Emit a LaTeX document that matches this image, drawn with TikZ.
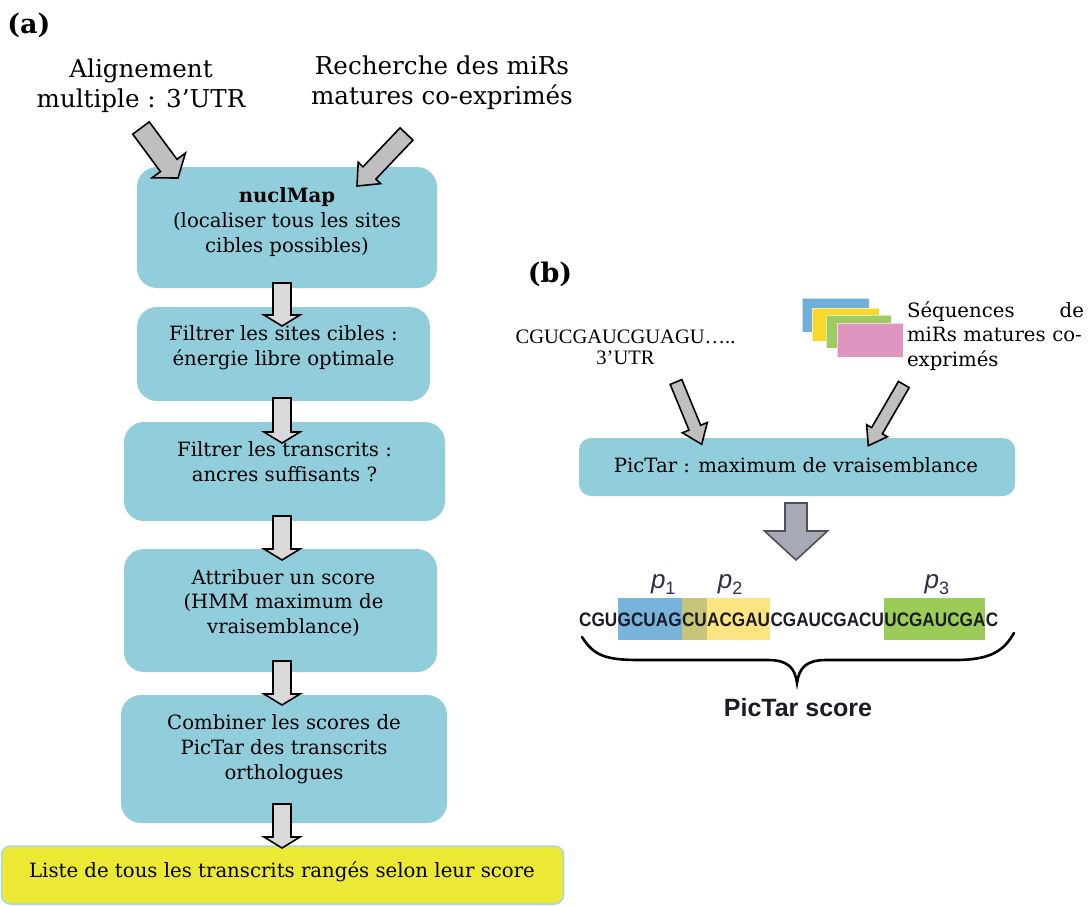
\documentclass[tikz,border=0pt]{standalone}
\usepackage{fontspec}
\usepackage{graphicx}
\setmainfont{DejaVu Serif}
\newfontfamily\utrfont{Liberation Serif}
\newfontfamily\sansf{Liberation Sans}
\usetikzlibrary{calc}

\definecolor{boxblue}{HTML}{92CDDC}
\definecolor{listyellow}{HTML}{EBE934}
\definecolor{listedge}{HTML}{A6D5E4}
\definecolor{arrowlight}{HTML}{D9D9D9}
\definecolor{arrowgray}{HTML}{BFBFBF}
\definecolor{bigfill}{HTML}{A7AAB6}
\definecolor{bigedge}{HTML}{505058}
\definecolor{noteblue}{HTML}{70B0D8}
\definecolor{noteyellow}{HTML}{F8D82B}
\definecolor{notegreen}{HTML}{9FCC62}
\definecolor{notepink}{HTML}{E095C0}
\definecolor{hlblue}{HTML}{78B3DA}
\definecolor{hlolive}{HTML}{C8C47A}
\definecolor{hlyellow}{HTML}{FCE482}
\definecolor{hlgreen}{HTML}{9BCC5A}
\definecolor{seqink}{HTML}{1C1C28}
\definecolor{pink}{HTML}{2E2E48}

% block arrow: [style]{tail}{tip}{shaft half width}{head half width}{head length}
\newcommand\blockarrow[6]{%
  \coordinate (ba-base) at ($(#3)!#6!(#2)$);
  \draw[#1] ($(#2)!#4!90:(#3)$) -- ($(ba-base)!#4!90:(#3)$)
    -- ($(ba-base)!#5!90:(#3)$) -- (#3)
    -- ($(ba-base)!#5!-90:(#3)$) -- ($(ba-base)!#4!-90:(#3)$)
    -- ($(#2)!#4!-90:(#3)$) -- cycle;
}
\newcommand\sq[1]{\scalebox{0.88}[1]{#1}}
\newcommand\pidx[1]{p\raisebox{-0.22em}{\upshape\fontsize{18}{18}\selectfont #1}}

\tikzset{
  panel/.style={font=\fontsize{27}{27}\selectfont\bfseries, inner sep=0pt},
  toptext/.style={font=\fontsize{24.6}{30}\selectfont, align=center, inner sep=0pt},
  flowbox/.style={fill=boxblue, rounded corners=20pt, inner sep=0pt},
  boxtext/.style={font=\fontsize{19.7}{24.8}\selectfont, align=center, inner sep=0pt},
  downarrow/.style={fill=arrowlight, draw=black, line width=1.6pt, line join=miter},
  diagarrow/.style={fill=arrowgray, draw=black, line width=1.6pt, line join=miter},
  bigarrow/.style={fill=bigfill, draw=bigedge, line width=1.6pt, line join=miter},
  note/.style={inner sep=0pt, draw=white, line width=0.8pt, draw opacity=0.6},
  seg/.style={inner sep=0pt, text height=28pt, text depth=14pt, anchor=base west,
    text=seqink, font=\sansf\bfseries\fontsize{19.5}{20}\selectfont},
  plab/.style={inner sep=0pt, text=pink, font=\sansf\itshape\fontsize{26}{26}\selectfont},
  bracestroke/.style={draw=black, line width=2.6pt, line cap=round},
}

\begin{document}
\begin{tikzpicture}[x=1pt,y=-1pt]
\useasboundingbox (0,0) rectangle (1091,905);
\fill[white] (0,0) rectangle (1091,905);

% ---------- panel (a) ----------
\node[panel] (lblA) at (29,25) {(a)};
\node[toptext] (inAlign) at (141,86) {Alignement\\multiple : 3’UTR};
\node[toptext] (inMir) at (442,83) {Recherche des miRs\\matures co-exprimés};

\node[flowbox, minimum width=300pt, minimum height=121pt] (b1) at (287,227.5) {};
\node[flowbox, minimum width=293pt, minimum height=94pt] (b2) at (283.5,354) {};
\node[flowbox, minimum width=321pt, minimum height=99pt] (b3) at (284.5,471.5) {};
\node[flowbox, minimum width=313pt, minimum height=123pt] (b4) at (280.5,610.5) {};
\node[flowbox, minimum width=326pt, minimum height=128pt] (b5) at (284,759) {};
\node[fill=listyellow, draw=listedge, line width=1.5pt, rounded corners=9pt,
      minimum width=562pt, minimum height=58pt, inner sep=0pt] (b6) at (282.5,875) {};

% inputs of nuclMap
\coordinate (a1s) at (141,128);
\coordinate (a1e) at (178,178);
\coordinate (a2s) at (406.5,134);
\coordinate (a2e) at (357,186);
\blockarrow{diagarrow}{a1s}{a1e}{10.3pt}{20.8pt}{15.6pt}
\blockarrow{diagarrow}{a2s}{a2e}{8.9pt}{15.5pt}{18pt}

% steps of the pipeline
\coordinate (v1s) at (282,283);  \coordinate (v1e) at (282,326);
\coordinate (v2s) at (282,398);  \coordinate (v2e) at (282,443);
\coordinate (v3s) at (282,516);  \coordinate (v3e) at (282,560);
\coordinate (v4s) at (282,661);  \coordinate (v4e) at (282,705);
\coordinate (v5s) at (282,804);  \coordinate (v5e) at (282,848);
\blockarrow{downarrow}{v1s}{v1e}{9pt}{18pt}{11pt}
\blockarrow{downarrow}{v2s}{v2e}{9pt}{18pt}{11pt}
\blockarrow{downarrow}{v3s}{v3e}{9pt}{18pt}{11pt}
\blockarrow{downarrow}{v4s}{v4e}{9pt}{18pt}{11pt}
\blockarrow{downarrow}{v5s}{v5e}{9pt}{18pt}{11pt}

\node[boxtext] (t1) at (287,222) {\textbf{nuclMap}\\(localiser tous les sites\\cibles possibles)};
\node[boxtext] (t2) at (283.5,347.5) {Filtrer les sites cibles :\\énergie libre optimale};
\node[boxtext] (t3) at (284.5,461.5) {Filtrer les transcrits :\\ancres suffisants ?};
\node[boxtext] (t4) at (283.5,603) {Attribuer un score\\(HMM maximum de\\vraisemblance)};
\node[boxtext] (t5) at (284,749) {Combiner les scores de\\PicTar des transcrits\\orthologues};
\node[boxtext] (t6) at (282,872) {Liste de tous les transcrits rangés selon leur score};

% ---------- panel (b) ----------
\node[panel] (lblB) at (550,274) {(b)};
\node[font=\utrfont\fontsize{20.5}{21}\selectfont, align=center, inner sep=0pt] (utr)
  at (625.5,347.5) {CGUCGAUCGUAGU…..\\3’UTR};

\node[note, fill=noteblue, minimum width=67pt, minimum height=34pt] (n1) at (835.5,315) {};
\node[note, fill=noteyellow, minimum width=67pt, minimum height=33pt] (n2) at (845.5,324.5) {};
\node[note, fill=notegreen, minimum width=65pt, minimum height=33pt] (n3) at (858.5,331.5) {};
\node[note, fill=notepink, minimum width=66pt, minimum height=34pt] (n4) at (870,340) {};
\node[boxtext, text width=177pt, align=left] (mirs) at (995.5,336)
  {Séquences\hfill de\\miRs matures co-\\exprimés};

\node[fill=boxblue, rounded corners=12pt, minimum width=436pt, minimum height=58pt,
      inner sep=0pt] (pictar) at (797,467) {};
\coordinate (b1s) at (676,382);
\coordinate (b1e) at (701.7,444.3);
\coordinate (b2s) at (903.8,384.5);
\coordinate (b2e) at (868.3,445.7);
\blockarrow{diagarrow}{b1s}{b1e}{6.3pt}{13.5pt}{18pt}
\blockarrow{diagarrow}{b2s}{b2e}{6.2pt}{12pt}{17.3pt}
\node[boxtext] (pictxt) at (796,465) {PicTar : maximum de vraisemblance};

\coordinate (bigS) at (796,503);
\coordinate (bigE) at (796,560);
\blockarrow{bigarrow}{bigS}{bigE}{11pt}{31.5pt}{29pt}

% scored 3'UTR with the three sites
\node[seg] (s1) at (579,626) {\sq{CGU}};
\node[seg, fill=hlblue] (s2) at (s1.base east) {\sq{GCUAG}};
\node[seg, fill=hlolive] (s3) at (s2.base east) {\sq{CU}};
\node[seg, fill=hlyellow] (s4) at (s3.base east) {\sq{ACGAU}};
\node[seg] (s5) at (s4.base east) {\sq{CGAUCGACU}};
\node[seg, fill=hlgreen] (s6) at (s5.base east) {\sq{UCGAUCGA}};
\node[seg] (s7) at (s6.base east) {\sq{C}};

\node[plab] (p1) at ($(s2.north west)!.5!(s3.north east)+(1,-13)$) {\pidx{1}};
\node[plab] (p2) at ($(s3.north west)!.5!(s4.north east)+(4,-13)$) {\pidx{2}};
\node[plab] (p3) at ($(s6.north)+(2,-13)$) {\pidx{3}};

\coordinate (brL) at (582,637);
\coordinate (brTip) at (797,683);
\coordinate (brR) at (1014,633);
\draw[bracestroke] (brL) .. controls (594,656) and (606,660) .. (640,660) -- (768,660)
  .. controls (788,660) and (795,668) .. (brTip)
  .. controls (799,668) and (806,660) .. (826,660) -- (955,660)
  .. controls (992,660) and (1004,650) .. (brR);

\node[inner sep=0pt, text=seqink, font=\sansf\bfseries\fontsize{25}{25}\selectfont]
  (score) at (798,708) {PicTar score};
\end{tikzpicture}
\end{document}
